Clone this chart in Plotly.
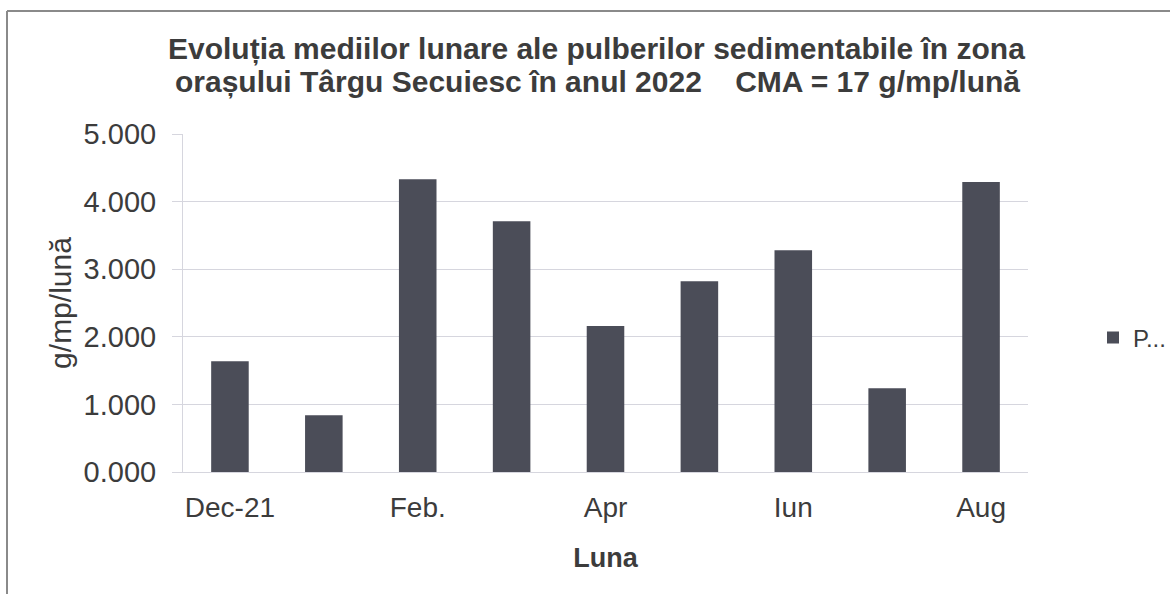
import plotly.graph_objects as go

# ---- data ----
months = ["Dec-21", "Ian.", "Feb.", "Mar.", "Apr", "Mai", "Iun", "Iul", "Aug"]
values = [1.64, 0.84, 4.33, 3.71, 2.16, 2.82, 3.28, 1.24, 4.29]
shown_ticks = ["Dec-21", "Feb.", "Apr", "Iun", "Aug"]
y_ticks = [0, 1, 2, 3, 4, 5]
y_tick_text = ["0.000", "1.000", "2.000", "3.000", "4.000", "5.000"]
series_name = "P..."
title_line1 = "Evoluția mediilor lunare ale pulberilor sedimentabile în zona"
title_line2 = "orașului Târgu Secuiesc în anul 2022\u00a0\u00a0\u00a0\u00a0CMA = 17 g/mp/lună"

W, H = 1170, 594
L, R, T, B = 183, 142, 134, 122
plot_w = W - L - R
plot_h = H - T - B

def px_x(px):
    return (px - L) / plot_w

def px_y(py):
    return (H - B - py) / plot_h

FONT = "Liberation Sans, Arial, sans-serif"
TXT = "#3c3c3c"
BAR = "#4b4d58"
GRID = "#d6d6de"

fig = go.Figure()
fig.add_trace(go.Bar(
    x=months, y=values, name=series_name,
    marker=dict(color=BAR, line=dict(width=0)),
    showlegend=True,
))

fig.update_layout(
    width=W, height=H,
    margin=dict(l=L, r=R, t=T, b=B, autoexpand=False),
    paper_bgcolor="white", plot_bgcolor="white",
    bargap=0.6,
    font=dict(family=FONT, color=TXT, size=28),
    showlegend=True,
    legend=dict(x=px_x(1093), y=px_y(338), xanchor="left", yanchor="middle",
                font=dict(size=24, color=TXT), bgcolor="rgba(0,0,0,0)",
                itemwidth=30),
    xaxis=dict(
        type="category", categoryorder="array", categoryarray=months,
        tickmode="array", tickvals=shown_ticks, ticktext=shown_ticks,
        showline=True, linecolor=GRID, linewidth=1,
        ticks="", showgrid=False, ticklabelstandoff=10,
        tickfont=dict(size=28, color=TXT),
        title=dict(text="<b>Luna</b>", font=dict(size=27, color=TXT), standoff=26),
    ),
    yaxis=dict(
        range=[0, 5], tickmode="array", tickvals=y_ticks, ticktext=y_tick_text,
        showgrid=True, gridcolor=GRID, gridwidth=1,
        showline=True, linecolor=GRID, linewidth=1,
        ticks="outside", ticklen=10, tickcolor=GRID, ticklabelstandoff=10,
        tickfont=dict(size=29, color=TXT),
        zeroline=False,
        title=dict(text="g/mp/lună", font=dict(size=30, color=TXT), standoff=3),
    ),
    annotations=[
        dict(text="<b>" + title_line1 + "</b>", x=px_x(596), y=px_y(49),
             xref="paper", yref="paper", showarrow=False,
             xanchor="center", yanchor="middle",
             font=dict(size=30, color=TXT, family=FONT)),
        dict(text="<b>" + title_line2 + "</b>", x=px_x(597), y=px_y(82),
             xref="paper", yref="paper", showarrow=False,
             xanchor="center", yanchor="middle",
             font=dict(size=30, color=TXT, family=FONT)),
    ],
    shapes=[
        dict(type="line", xref="paper", yref="paper",
             x0=px_x(7), x1=px_x(1170), y0=px_y(11), y1=px_y(11),
             line=dict(color="#8a8a8a", width=2)),
        dict(type="line", xref="paper", yref="paper",
             x0=px_x(7), x1=px_x(7), y0=px_y(11), y1=px_y(594),
             line=dict(color="#8a8a8a", width=2)),
    ],
)

fig.write_html("out.html", config={"displayModeBar": False},
               post_script="document.body.style.margin='0px';")
